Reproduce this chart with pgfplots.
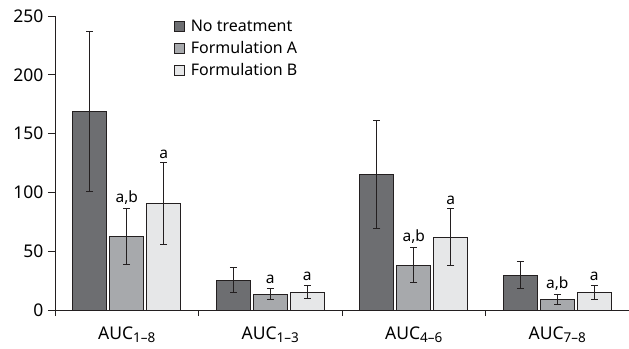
\documentclass[border=0pt]{standalone}
\usepackage{pgfplots}
\pgfplotsset{compat=1.18}
\usepackage{fontspec}
\setmainfont{Noto Sans}
\definecolor{edge}{HTML}{231F20}
\definecolor{cdark}{HTML}{6D6E71}
\definecolor{cmid}{HTML}{A7A9AC}
\definecolor{clight}{HTML}{E6E7E8}
\newcommand{\sub}[1]{\raisebox{-3.5pt}{\fontsize{13.5}{15}\selectfont #1}}
\pgfplotstableread{
x y e
0 169 68
1 25.5 10.5
2 115 46
3 29.5 11.5
}\tnone
\pgfplotstableread{
x y e
0 62.5 24
1 13.6 5
2 38 15
3 9 4
}\tA
\pgfplotstableread{
x y e
0 90.5 35
1 15.3 5.8
2 62 24
3 15 6
}\tB
\begin{document}
\begin{tikzpicture}
\begin{axis}[name=ax,
  scale only axis, width=574pt, height=294pt,
  xmin=-0.5, xmax=3.5, ymin=0, ymax=250,
  ybar=3pt, bar width=34pt,
  axis lines*=left,
  axis line style={edge, line width=0.8pt},
  tick style={edge, line width=0.8pt},
  tick align=outside,
  xtick={0,1,2,3},
  xticklabels={AUC\sub{1–8},AUC\sub{1–3},AUC\sub{4–6},AUC\sub{7–8}},
  major x tick style={draw=none},
  minor xtick={-0.5,0.5,1.5,2.5,3.5},
  minor tick length=6pt,
  ytick={0,50,100,150,200,250},
  major tick length=7pt,
  yticklabel style={font=\fontsize{17.5}{20}\selectfont, xshift=-1pt},
  xticklabel style={font=\fontsize{17.5}{20}\selectfont, yshift=-6pt, anchor=north},
  /pgf/number format/assume math mode=true,
  every axis plot/.append style={draw=edge, line width=0.9pt,
    error bars/y dir=both, error bars/y explicit,
    error bars/error bar style={edge, line width=1pt},
    error bars/error mark options={edge, rotate=90, mark size=3.5pt, line width=1pt}},
  legend style={at={(0.207,0.995)}, anchor=north west, draw=none, fill=none,
    font=\fontsize{16}{19}\selectfont, row sep=4.5pt, inner sep=0pt},
  legend cell align=left,
  legend image code/.code={\draw[#1, line width=0.8pt] (0pt,-5pt) rectangle (10pt,5pt);},
  clip=false,
]
\addplot[fill=cdark] table[x=x, y=y, y error=e] {\tnone};
\addplot[fill=cmid] table[x=x, y=y, y error=e] {\tA};
\addplot[fill=clight] table[x=x, y=y, y error=e] {\tB};
\legend{\hspace{4pt}No treatment, \hspace{4pt}Formulation A, \hspace{4pt}Formulation B}
\begin{scope}[every node/.style={font=\fontsize{15.5}{18}\selectfont, anchor=south, inner sep=0pt, yshift=4pt}]
\node at (axis cs:0,86.5) {a,b};
\node at ([xshift=37pt]axis cs:0,125.5) {a};
\node at (axis cs:1,18.6) {a};
\node at ([xshift=37pt]axis cs:1,21.1) {a};
\node at (axis cs:2,53) {a,b};
\node at ([xshift=37pt]axis cs:2,86) {a};
\node at (axis cs:3,13) {a,b};
\node at ([xshift=37pt]axis cs:3,21) {a};
\end{scope}
\end{axis}
\pgfresetboundingbox
\path ([xshift=-55pt,yshift=-38pt]ax.south west) rectangle ([yshift=16pt]ax.north east);
\end{tikzpicture}
\end{document}
